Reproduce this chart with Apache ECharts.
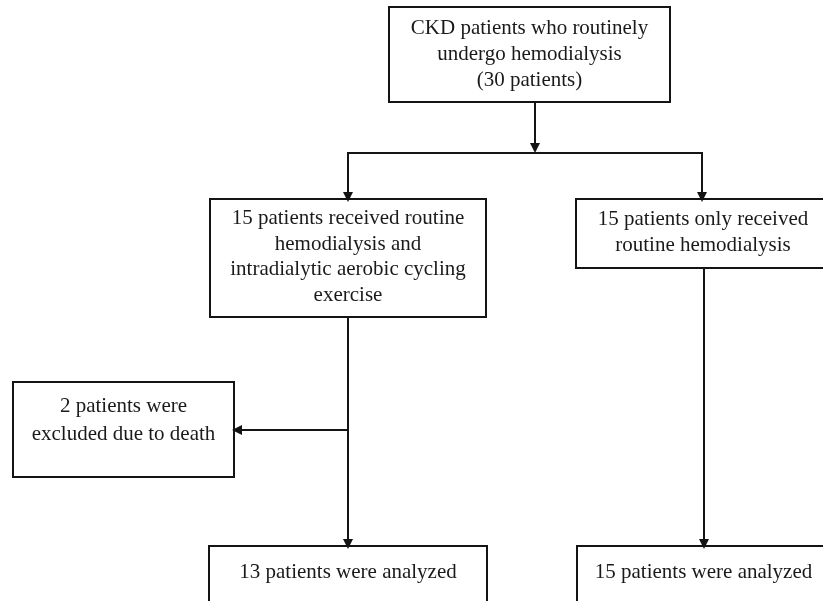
<!DOCTYPE html>
<html>
<head>
<meta charset="utf-8">
<script src="https://cdn.jsdelivr.net/npm/echarts@6/dist/echarts.min.js"></script>
<style>
  html, body { margin: 0; padding: 0; background: #fff; }
  #chart { width: 823px; height: 601px; }
</style>
</head>
<body>
<div id="chart"></div>
<script>
// box texts
const boxLabels = [
  'CKD patients who routinely\nundergo hemodialysis\n(30 patients)',
  '15 patients received routine\nhemodialysis and\nintradialytic aerobic cycling\nexercise',
  '15 patients only received\nroutine hemodialysis',
  '2 patients were\nexcluded due to death',
  '13 patients were analyzed',
  '15 patients were analyzed'
]
// box corners [x0, y0, x1, y1] in chart units
const boxRects = [
  [389, 7, 670, 102],
  [210, 199, 486, 317],
  [576, 199, 830, 268],
  [13, 382, 234, 477],
  [209, 546, 487, 610],
  [577, 546, 830, 610]
]
// gap between box top and first text line, and line height
const textPad = [8, 7, 7, 10, 13, 13]
const textLine = [26, 25.5, 26, 28, 26, 26]
// connectors, arrow at the end unless plain
const arrowLines = [
  [[535, 102], [535, 148]],
  [[348, 317], [348, 544]],
  [[348, 430], [237, 430]],
  [[704, 268], [704, 544]],
  [[348, 153], [348, 197]],
  [[702, 153], [702, 197]]
]
const plainLines = [
  [[347, 153], [703, 153]]
]

const chart = echarts.init(document.getElementById('chart'))

chart.setOption({
  animation: false,
  grid: { left: 0, right: 0, top: 0, bottom: 0 },
  xAxis: { type: 'value', min: 0, max: 823, show: false },
  yAxis: { type: 'value', min: 0, max: 601, inverse: true, show: false },
  series: [
    {
      type: 'custom',
      data: boxRects.map((r, i) => [r[0], r[1], r[2], r[3], i]),
      renderItem: function (params, api) {
        const i = api.value(4)
        const p0 = api.coord([api.value(0), api.value(1)])
        const p1 = api.coord([api.value(2), api.value(3)])
        return {
          type: 'group',
          children: [
            {
              type: 'rect',
              shape: { x: p0[0], y: p0[1], width: p1[0] - p0[0], height: p1[1] - p0[1] },
              style: { fill: '#fff', stroke: '#141414', lineWidth: 2 }
            },
            {
              type: 'text',
              x: (p0[0] + p1[0]) / 2,
              y: p0[1] + textPad[i],
              style: {
                text: boxLabels[i],
                align: 'center',
                verticalAlign: 'top',
                font: '21px "Liberation Serif", "Times New Roman", serif',
                lineHeight: textLine[i],
                fill: '#1a1a1a'
              }
            }
          ]
        }
      }
    },
    {
      type: 'lines',
      coordinateSystem: 'cartesian2d',
      symbol: ['none', 'triangle'],
      symbolSize: [0, 10],
      lineStyle: { color: '#141414', width: 2, opacity: 1 },
      data: arrowLines.map(c => ({ coords: c }))
    },
    {
      type: 'lines',
      coordinateSystem: 'cartesian2d',
      symbol: 'none',
      lineStyle: { color: '#141414', width: 2, opacity: 1 },
      data: plainLines.map(c => ({ coords: c }))
    }
  ]
})
</script>
</body>
</html>
